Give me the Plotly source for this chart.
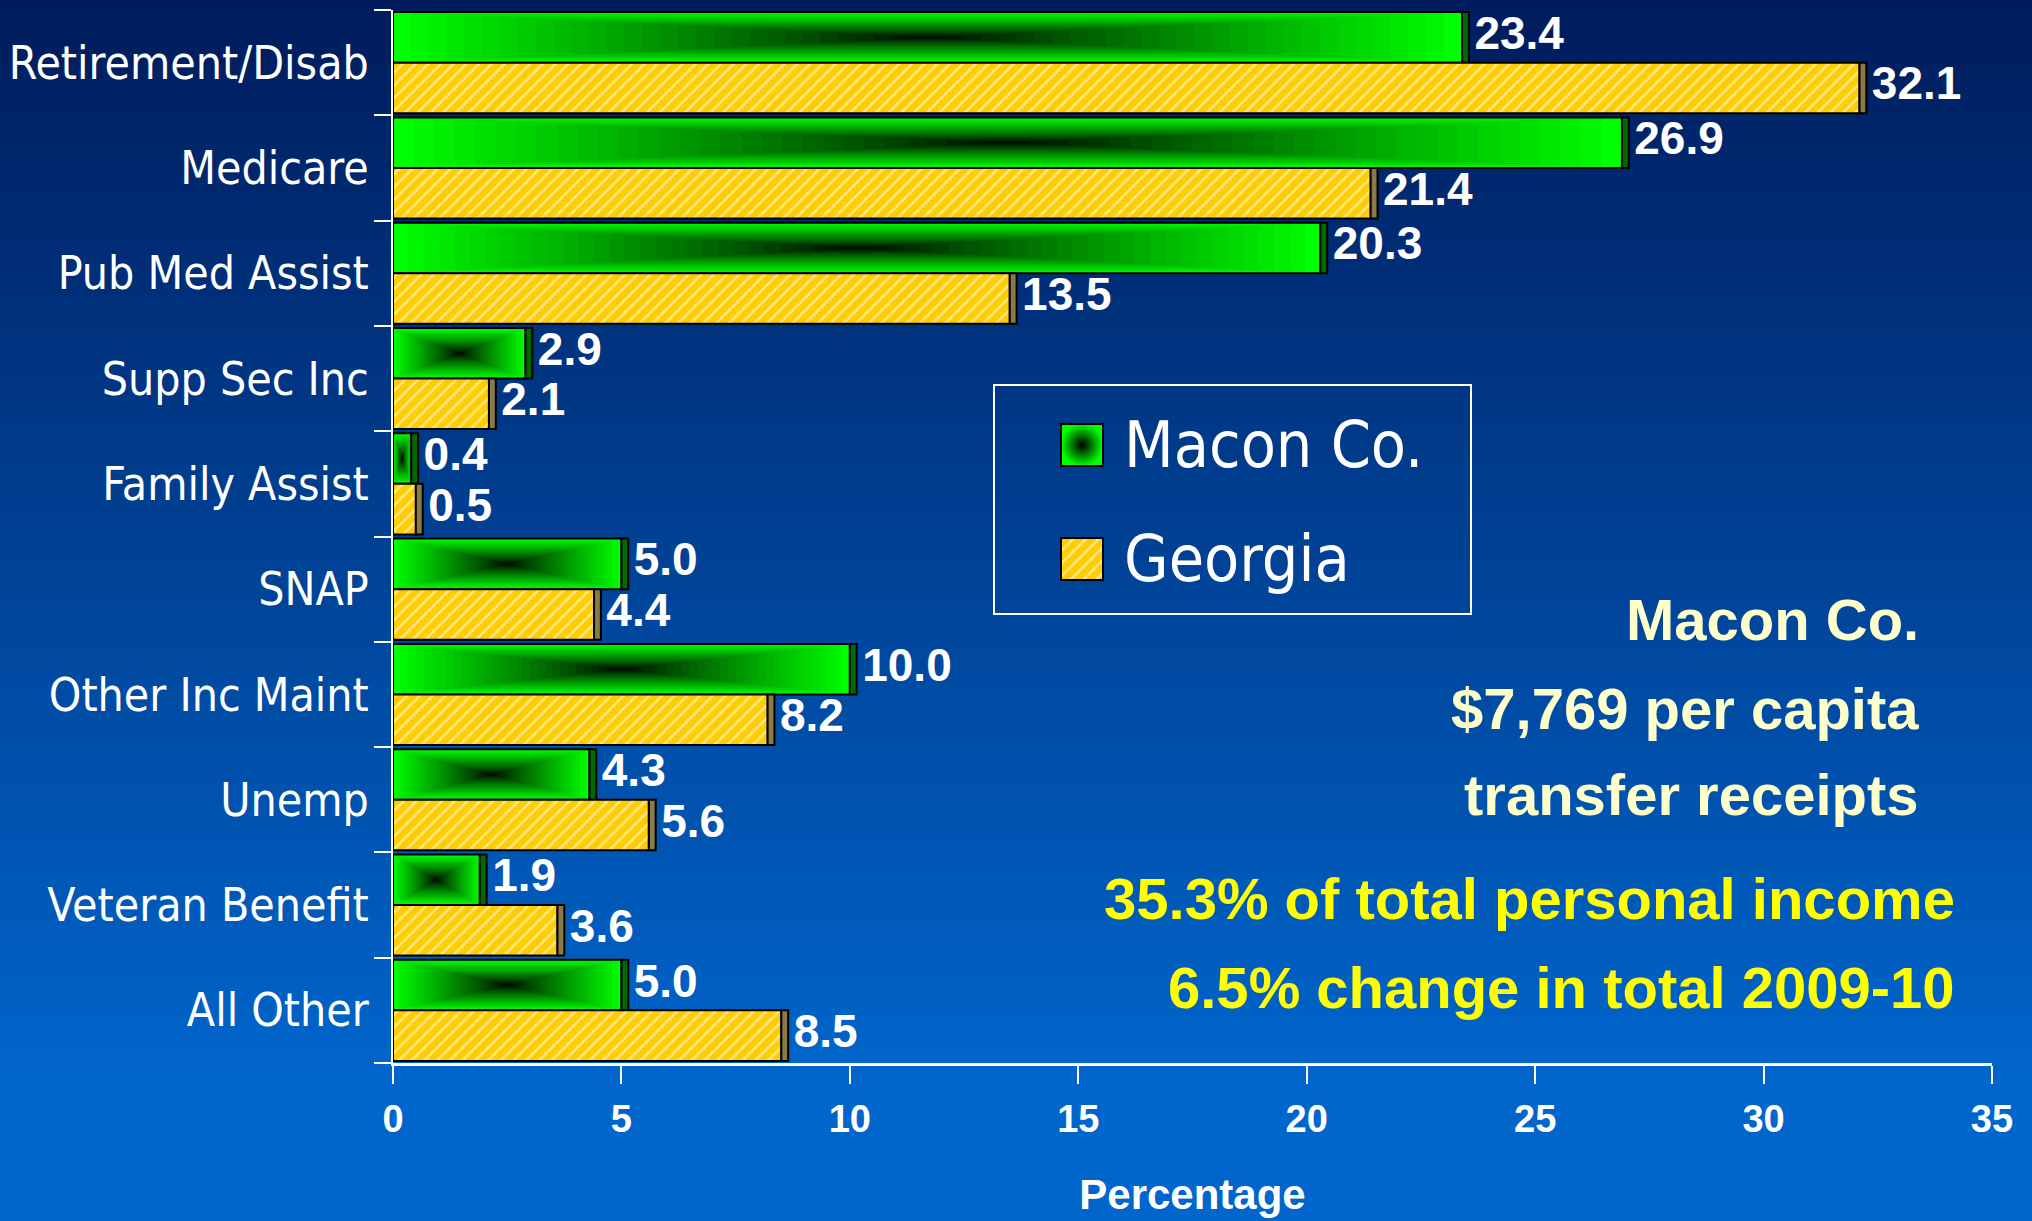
import numpy as np
import plotly.graph_objects as go

# ---------------- data ----------------
categories = ["Retirement/Disab", "Medicare", "Pub Med Assist", "Supp Sec Inc",
              "Family Assist", "SNAP", "Other Inc Maint", "Unemp",
              "Veteran Benefit", "All Other"]
macon = [23.4, 26.9, 20.3, 2.9, 0.4, 5.0, 10.0, 4.3, 1.9, 5.0]
georgia = [32.1, 21.4, 13.5, 2.1, 0.5, 4.4, 8.2, 5.6, 3.6, 8.5]
series_names = ["Macon Co.", "Georgia"]
x_ticks = [0, 5, 10, 15, 20, 25, 30, 35]
x_title = "Percentage"
note_lines = ["Macon Co.", "$7,769 per capita", "transfer receipts"]
highlight_lines = ["35.3% of total personal income", "6.5% change in total 2009-10"]

# ---------------- geometry / style ----------------
W, H = 2032, 1221
ML, MR, MT, MB = 393, 40, 10, 158
PW, PH = W - ML - MR, H - MT - MB

def px(xp):
    return (xp - ML) / PW

def py(yp):
    return (MT + PH - yp) / PH

NARROW = "DejaVu Sans Condensed, Liberation Sans Narrow, Arial Narrow, sans-serif"
SANS = "Liberation Sans, Arial, Helvetica, sans-serif"
GREEN = "#00FF00"
GOLD = "#FFCC00"
BAR_W = 0.48
SIDE = 0.15
LABEL_PAD = 0.12
K = 30

idx = list(range(len(categories)))
fig = go.Figure()

# Macon base bars
fig.add_trace(go.Bar(
    y=idx, x=macon, base=0, orientation="h", offset=-BAR_W, width=BAR_W,
    marker=dict(color=GREEN, line=dict(color="black", width=2)),
    name=series_names[0], showlegend=False, hoverinfo="skip"))

# rectangular (centre) gradient overlay on Macon bars
def bright(t):
    return t ** 0.75

prev = 1.0
for m in range(1, K):
    f = 1 - m / K
    target = bright(f - 0.5 / K)
    alpha = max(0.0, 1 - target / prev)
    prev = target
    fig.add_trace(go.Bar(
        y=idx, x=[v * f for v in macon], base=[v * m / (2 * K) for v in macon],
        orientation="h", offset=-BAR_W / 2 - BAR_W * f / 2, width=BAR_W * f,
        marker=dict(color=f"rgba(0,0,0,{alpha:.4f})", line=dict(width=0)),
        showlegend=False, hoverinfo="skip"))

# Macon side face
fig.add_trace(go.Bar(
    y=idx, x=[SIDE] * len(macon), base=macon, orientation="h",
    offset=-BAR_W, width=BAR_W,
    marker=dict(color="#006a00", line=dict(color="black", width=2)),
    showlegend=False, hoverinfo="skip"))

# Georgia bars (hatched)
fig.add_trace(go.Bar(
    y=idx, x=georgia, base=0, orientation="h", offset=0, width=BAR_W,
    marker=dict(color=GOLD, line=dict(color="black", width=2),
                pattern=dict(shape="/", fgcolor="white", bgcolor=GOLD,
                             size=9, solidity=0.3)),
    name=series_names[1], showlegend=False, hoverinfo="skip"))

# Georgia side face
fig.add_trace(go.Bar(
    y=idx, x=[SIDE] * len(georgia), base=georgia, orientation="h",
    offset=0, width=BAR_W,
    marker=dict(color="#8a7a48", line=dict(color="black", width=2)),
    showlegend=False, hoverinfo="skip"))

# value labels
fig.add_trace(go.Scatter(
    y=[i - BAR_W / 2 for i in idx], x=[v + SIDE + LABEL_PAD for v in macon],
    text=[f"{v:.1f}" for v in macon], mode="text", textposition="middle right",
    textfont=dict(family=SANS, size=46, color="white", weight="bold"),
    cliponaxis=False, showlegend=False, hoverinfo="skip"))
fig.add_trace(go.Scatter(
    y=[i + BAR_W / 2 for i in idx], x=[v + SIDE + LABEL_PAD for v in georgia],
    text=[f"{v:.1f}" for v in georgia], mode="text", textposition="middle right",
    textfont=dict(family=SANS, size=46, color="white", weight="bold"),
    cliponaxis=False, showlegend=False, hoverinfo="skip"))

# ---------------- legend (drawn on an overlay paper-like axis) ----------------
LEG_X = px(1082)
LEG_Y = [py(445), py(559)]
fig.add_trace(go.Scatter(
    x=[LEG_X], y=[LEG_Y[0]], xaxis="x2", yaxis="y2", mode="markers",
    marker=dict(symbol="square", size=42, color=GREEN,
                gradient=dict(type="radial", color="black"),
                line=dict(color="black", width=2)),
    showlegend=False, hoverinfo="skip", cliponaxis=False))
fig.add_trace(go.Bar(
    x=[42 / PW], base=[LEG_X - 21 / PW], y=[LEG_Y[1]], width=[42 / PH],
    xaxis="x2", yaxis="y2", orientation="h",
    marker=dict(color=GOLD, line=dict(color="black", width=2),
                pattern=dict(shape="/", fgcolor="white", bgcolor=GOLD,
                             size=9, solidity=0.3)),
    showlegend=False, hoverinfo="skip"))

annotations = []
for name, yy in zip(series_names, LEG_Y):
    annotations.append(dict(
        x=px(1122), y=yy, xref="paper", yref="paper", text=name,
        showarrow=False, xanchor="left", yanchor="middle",
        font=dict(family=NARROW, size=64, color="white")))

for txt, yy in zip(note_lines, [619, 708, 794]):
    annotations.append(dict(
        x=px(1921), y=py(yy), xref="paper", yref="paper", text=txt,
        showarrow=False, xanchor="right", yanchor="middle",
        font=dict(family=SANS, size=58, color="#FFFFCC", weight="bold")))
for txt, yy in zip(highlight_lines, [898, 987]):
    annotations.append(dict(
        x=px(1957), y=py(yy), xref="paper", yref="paper", text=txt,
        showarrow=False, xanchor="right", yanchor="middle",
        font=dict(family=SANS, size=58, color="#FFFF00", weight="bold")))

# ---------------- background gradient + legend box ----------------
shapes = []
top = np.array([0, 28, 92])
bot = np.array([0, 102, 204])
NB = 120
for b in range(NB):
    y0 = H * b / NB
    y1 = H * (b + 1) / NB
    t = min(1.0, ((y0 + y1) / 2) / 1080)
    c = top + (bot - top) * t
    shapes.append(dict(
        type="rect", xref="paper", yref="paper", layer="below",
        x0=px(-20), x1=px(W + 20), y0=py(y1 + 0.5), y1=py(y0),
        fillcolor=f"rgb({int(c[0])},{int(c[1])},{int(c[2])})",
        line=dict(width=0)))
shapes.append(dict(
    type="rect", xref="paper", yref="paper", layer="above",
    x0=px(994), x1=px(1471), y0=py(614), y1=py(385),
    line=dict(color="white", width=2), fillcolor="rgba(0,0,0,0)"))

fig.update_layout(
    width=W, height=H,
    margin=dict(l=ML, r=MR, t=MT, b=MB, autoexpand=False),
    paper_bgcolor="#0066CC", plot_bgcolor="rgba(0,0,0,0)",
    barmode="overlay", showlegend=False,
    xaxis=dict(range=[0, 35], tickvals=x_ticks, ticks="outside", ticklen=18,
               tickwidth=2, tickcolor="white", showline=True, linecolor="white",
               linewidth=3, showgrid=False, zeroline=False, automargin=False,
               tickfont=dict(family=SANS, size=38, color="white", weight="bold"),
               ticklabelstandoff=2,
               title=dict(text=x_title, standoff=42,
                          font=dict(family=SANS, size=42, color="white", weight="bold"))),
    yaxis=dict(range=[9.5, -0.5], tickvals=idx, ticktext=categories,
               ticks="outside", ticklen=9, tickcolor="rgba(0,0,0,0)",
               minor=dict(dtick=1, tick0=0.5, ticks="outside", ticklen=17,
                          tickcolor="white", tickwidth=2),
               showline=True, linecolor="white", linewidth=2,
               showgrid=False, zeroline=False, automargin=False,
               ticklabelstandoff=4,
               tickfont=dict(family=NARROW, size=46, color="white")),
    xaxis2=dict(range=[0, 1], overlaying="x", visible=False),
    yaxis2=dict(range=[0, 1], overlaying="y", visible=False),
    shapes=shapes, annotations=annotations,
)

fig.write_html("out.html",
               config={"displayModeBar": False},
               post_script="document.body.style.margin='0';"
                           "document.body.style.background='#0066CC';")
